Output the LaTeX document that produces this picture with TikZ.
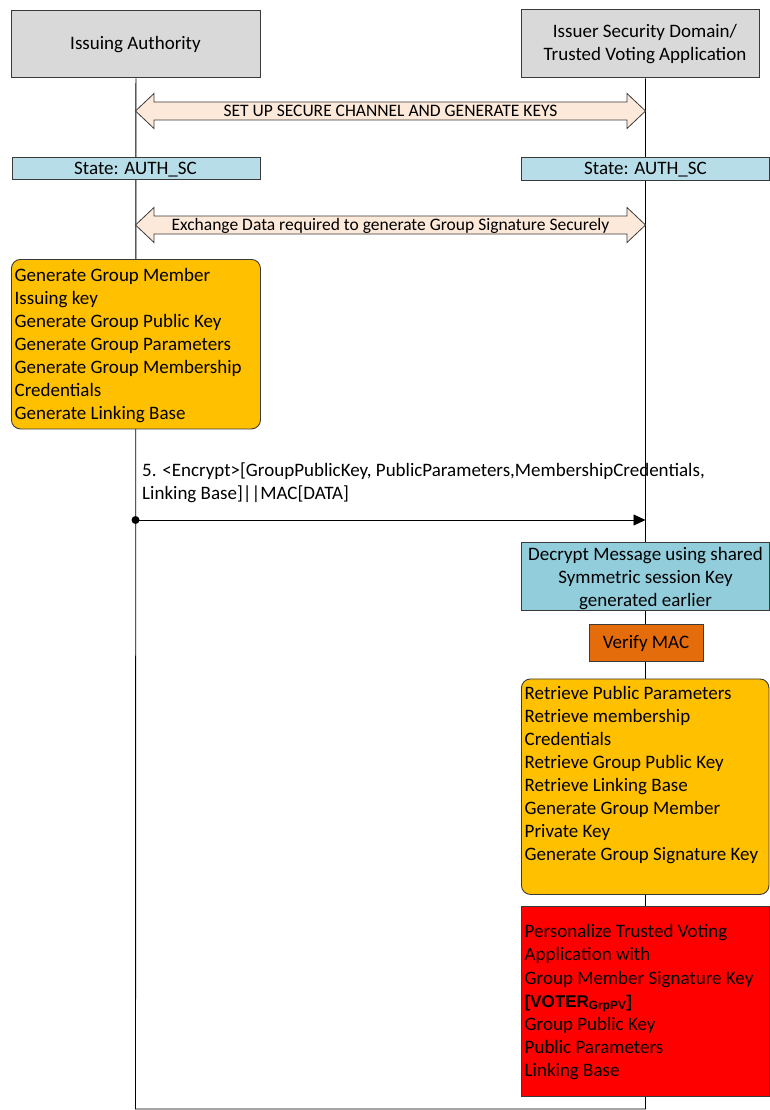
\documentclass[tikz,border=0pt]{standalone}
\usepackage{fontspec}
\setmainfont{Carlito}
\newfontfamily\arialfont{Liberation Sans}
\usetikzlibrary{calc,arrows.meta,backgrounds}
\definecolor{hdrgray}{HTML}{D9D9D9}
\definecolor{stateblue}{HTML}{B7DEE8}
\definecolor{peach}{HTML}{FDE9D9}
\definecolor{decblue}{HTML}{92CDDC}
\definecolor{macorange}{HTML}{E46C0A}
\definecolor{gold}{HTML}{FFC000}
\definecolor{alert}{HTML}{FF0000}
\definecolor{edge}{HTML}{3A3A3A}

\begin{document}
\begin{tikzpicture}[x=1pt,y=-1pt,
  frame/.style={draw=edge, line width=0.9pt, inner sep=0pt, anchor=north west},
  hdrbox/.style={frame, fill=hdrgray},
  statebox/.style={frame, fill=stateblue},
  taskbox/.style={frame, fill=gold, rounded corners=9pt},
  decbox/.style={frame, fill=decblue},
  macbox/.style={frame, fill=macorange},
  alertbox/.style={frame, fill=alert},
  txt/.style={inner sep=0pt, font=\fontsize{19}{23.1}\selectfont, anchor=base},
  lines/.style={inner sep=0pt, font=\fontsize{19}{23.1}\selectfont, anchor=north west, align=left},
  clines/.style={inner sep=0pt, font=\fontsize{19}{23.1}\selectfont, anchor=north, align=center},
  bandtext/.style={inner sep=0pt, font=\fontsize{17.5}{21}\selectfont, anchor=base},
  lifeline/.style={draw=black, line width=0.9pt},
  band/.style={draw=edge, line width=0.8pt, fill=peach},
  msg/.style={draw=black, line width=0.8pt, -{Triangle[length=12pt,width=11pt]}},
]
\useasboundingbox (0,0) rectangle (769,1110);

% participants
\node[hdrbox, minimum width=249pt, minimum height=67.5pt] (auth) at (11,10) {};
\node[hdrbox, minimum width=238pt, minimum height=68pt] (isd) at (521,9.5) {};
\node[txt] (authT) at (135.5,50) {Issuing Authority};
\node[clines] (isdT) at (645,21.5) {\strut Issuer Security Domain/\\Trusted Voting Application};

% lifeline end points
\coordinate (endL) at (135.5,1109);
\coordinate (endR) at (645.5,1109);
\begin{pgfonlayer}{background}
  \draw[lifeline] (auth.south) -- (endL) -- (endR) -- (isd.south -| endR);
\end{pgfonlayer}

% secure channel set-up
\coordinate (b1L) at (135.5,111);
\coordinate (b1R) at (645.5,111);
\draw[band] (b1L) -- ++(18.5,-17.5) -- ++(0,8.5) -- ($(b1R)+(-18.5,-9)$) -- ++(0,-8.5)
  -- (b1R) -- ++(-18.5,17.5) -- ++(0,-8.5) -- ($(b1L)+(18.5,9)$) -- ++(0,8.5) -- cycle;
\node[bandtext] (b1T) at (390.5,116.7) {SET UP SECURE CHANNEL AND GENERATE KEYS};

% states
\node[statebox, minimum width=248.5pt, minimum height=22.5pt] (stL) at (11.5,157) {};
\node[statebox, minimum width=247.5pt, minimum height=23pt] (stR) at (521,157) {};
\node[txt] (stLT) at (135.5,174.3) {State: AUTH\_SC};
\node[txt] (stRT) at (645.5,174.3) {State: AUTH\_SC};

% data exchange
\coordinate (b2L) at (135.5,225);
\coordinate (b2R) at (645.5,225);
\draw[band] (b2L) -- ++(18.5,-17.5) -- ++(0,8.5) -- ($(b2R)+(-18.5,-9)$) -- ++(0,-8.5)
  -- (b2R) -- ++(-18.5,17.5) -- ++(0,-8.5) -- ($(b2L)+(18.5,9)$) -- ++(0,8.5) -- cycle;
\node[bandtext] (b2T) at (390.5,230.7) {Exchange Data required to generate Group Signature Securely};

% issuing authority generation step
\node[taskbox, minimum width=249pt, minimum height=169.5pt] (gen) at (11,259) {};
\node[lines] (genT) at (14.5,264.8) {\strut Generate Group Member\\Issuing key\\Generate Group Public Key\\Generate Group Parameters\\Generate Group Membership\\Credentials\\Generate Linking Base};

% message 5
\node[lines] (m5T) at (142,460.5) {\strut 5. <Encrypt>[GroupPublicKey, PublicParameters,MembershipCredentials,\\Linking Base]||MAC[DATA]};
\coordinate (sendL) at (135.5,520);
\coordinate (recvR) at (645.5,520);
\draw[msg] (sendL) -- (recvR);
\fill (sendL) circle (4);

% receiving side
\node[decbox, minimum width=247.5pt, minimum height=68pt] (dec) at (521,542) {};
\node[clines] (decT) at (645.5,543.8) {\strut Decrypt Message using shared\\Symmetric session Key\\generated earlier};
\node[macbox, minimum width=114pt, minimum height=37pt] (mac) at (589,624) {};
\node[txt] (macT) at (646,648.3) {Verify MAC};
\node[taskbox, minimum width=247.5pt, minimum height=215.5pt] (ret) at (521,678.5) {};
\node[lines] (retT) at (524.5,682.8) {\strut Retrieve Public Parameters\\Retrieve membership\\Credentials\\Retrieve Group Public Key\\Retrieve Linking Base\\Generate Group Member\\Private Key\\Generate Group Signature Key};
\node[alertbox, minimum width=247.5pt, minimum height=190.5pt] (pers) at (521,905.5) {};
\node[lines] (persT) at (524.5,921.5) {\strut Personalize Trusted Voting\\Application with\\Group Member Signature Key\\{\arialfont\bfseries\fontsize{17}{20}\selectfont [VOTER\textsubscript{GrpPV}]}\\Group Public Key\\Public Parameters\\Linking Base};
\end{tikzpicture}
\end{document}
